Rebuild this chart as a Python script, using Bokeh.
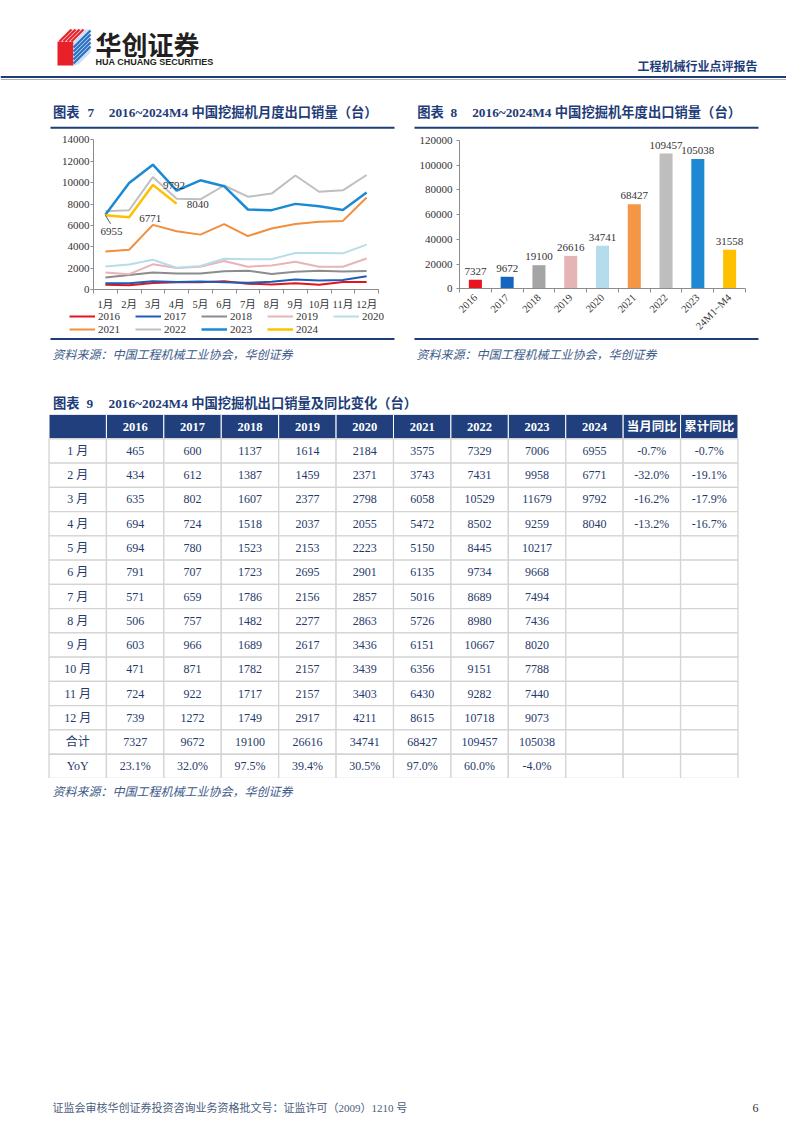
import math
from bokeh.plotting import figure
from bokeh.models import (Range1d, FactorRange, FixedTicker, SingleIntervalTicker, Legend, LegendItem,
                          ColumnDataSource, Spacer, BasicTickFormatter)
from bokeh.layouts import column, row
from bokeh.core.properties import value
from bokeh.embed import file_html
from bokeh.resources import INLINE

# ---------------- data ----------------
months = ["1月", "2月", "3月", "4月", "5月", "6月", "7月", "8月", "9月", "10月", "11月", "12月"]
years = ["2016", "2017", "2018", "2019", "2020", "2021", "2022", "2023", "2024"]
s2016 = [465, 434, 635, 694, 694, 791, 571, 506, 603, 471, 724, 739]
s2017 = [600, 612, 802, 724, 780, 707, 659, 757, 966, 871, 922, 1272]
s2018 = [1137, 1387, 1607, 1518, 1523, 1723, 1786, 1482, 1689, 1782, 1717, 1749]
s2019 = [1614, 1459, 2377, 2037, 2153, 2695, 2156, 2277, 2617, 2157, 2157, 2917]
s2020 = [2184, 2371, 2798, 2055, 2223, 2901, 2857, 2863, 3436, 3439, 3403, 4211]
s2021 = [3575, 3743, 6058, 5472, 5150, 6135, 5016, 5726, 6151, 6356, 6430, 8615]
s2022 = [7329, 7431, 10529, 8502, 8445, 9734, 8689, 8980, 10667, 9151, 9282, 10718]
s2023 = [7006, 9958, 11679, 9259, 10217, 9668, 7494, 7436, 8020, 7788, 7440, 9073]
s2024 = [6955, 6771, 9792, 8040]
mom_yoy = ["-0.7%", "-32.0%", "-16.2%", "-13.2%"]
cum_yoy = ["-0.7%", "-19.1%", "-17.9%", "-16.7%"]
totals = [7327, 9672, 19100, 26616, 34741, 68427, 109457, 105038]
yoy_annual = ["23.1%", "32.0%", "97.5%", "39.4%", "30.5%", "97.0%", "60.0%", "-4.0%"]
annual_cats = ["2016", "2017", "2018", "2019", "2020", "2021", "2022", "2023", "24M1~M4"]
annual_vals = [7327, 9672, 19100, 26616, 34741, 68427, 109457, 105038, 31558]
table_months = ["1 月", "2 月", "3 月", "4 月", "5 月", "6 月", "7 月", "8 月", "9 月", "10 月", "11 月", "12 月"]

series = [s2016, s2017, s2018, s2019, s2020, s2021, s2022, s2023, s2024]
line_colors = ["#E3141C", "#1B5EB8", "#8C8C8C", "#E8B4B8", "#B7DDE8", "#F28E3C", "#BFBFBF", "#1A8AD4", "#FFC000"]
line_widths = [2, 2, 2, 2, 2, 2, 2, 2.5, 2.5]
bar_colors = ["#E8141E", "#1565C0", "#A5A5A5", "#E6B4B4", "#B4DCEB", "#F59646", "#BEBEBE", "#1E88D2", "#FFC000"]

SERIF = "Liberation Serif, Noto Sans CJK SC"
CJK = "Noto Sans CJK SC"
NAVY = "#1e3c78"
TXT = "#333333"
SRC = "#3d5a8a"
W = 786


def canvas(y0, h, x0=0, w=W):
    p = figure(width=w, height=h, x_range=Range1d(x0, x0 + w), y_range=Range1d(y0 + h, y0),
               x_axis_type=None, y_axis_type=None, min_border=0, tools="",
               toolbar_location=None, output_backend="svg")
    p.outline_line_color = None
    p.grid.visible = False
    return p


def txt(p, x, y, s, size, color, font=SERIF, style="normal", align="left", baseline="middle"):
    p.text(x=[x], y=[y], text=[s], text_font=value(font), text_font_size=value(size),
           text_font_style=style, text_color=color, text_align=align, text_baseline=baseline)


def style_axes(p):
    for ax in p.axis:
        ax.axis_line_color = "#8c8c8c"
        ax.major_tick_line_color = "#8c8c8c"
        ax.minor_tick_line_color = "#8c8c8c"
        ax.major_label_text_font = SERIF
        ax.major_label_text_color = TXT
        ax.major_label_text_font_size = "11px"


def span_range(lo, hi, px_lo, px_hi, px_total):
    """data range whose [lo, hi] occupies pixels [px_lo, px_hi] of a frame px_total long"""
    per = (hi - lo) / (px_hi - px_lo)
    return Range1d(lo - px_lo * per, hi + (px_total - px_hi) * per)


# ---------------- header ----------------
header = canvas(0, 86)
header.patch([57, 57, 73, 73], [41, 65, 65, 41], fill_color="#e8202a", line_color=None)
header.patch([57, 69, 85, 73], [41, 29, 29, 41], fill_color="#f6c9cc", line_color=None)
header.multi_line([[59 + 4 * k, 71 + 4 * k] for k in range(4)], [[41, 29] for k in range(4)],
                  line_color="#e8202a", line_width=2)
header.patch([73, 85, 90, 90, 78, 73], [41, 29, 29, 52, 64, 65], fill_color="#cfe0f4", line_color=None)
header.multi_line([[73, 90] for d in range(5)], [[47 + 4 * d, 30 + 4 * d] for d in range(5)],
                  line_color="#2a6fc0", line_width=2.2)
txt(header, 95, 43, "华创证券", "26px", "#231f20", font=CJK, style="bold")
txt(header, 95, 61.5, "HUA CHUANG SECURITIES", "9px", "#231f20",
    font="Liberation Sans Narrow, Liberation Sans", style="bold")
txt(header, 757, 65, "工程机械行业点评报告", "12px", NAVY, font=CJK, style="bold", align="right")
header.segment(x0=[0], y0=[76.5], x1=[W], y1=[76.5], line_color=NAVY, line_width=2)
header.segment(x0=[0], y0=[79], x1=[W], y1=[79], line_color="#9a9a9a", line_width=0.8)

# ---------------- chart titles (both) ----------------
titles = canvas(86, 46)
for left, num_x, body_x, num, body, rx0, rx1 in [
        (52.5, 87, 108.3, "7", "2016~2024M4 中国挖掘机月度出口销量（台）", 50, 394),
        (416.7, 450, 471.7, "8", "2016~2024M4 中国挖掘机年度出口销量（台）", 414, 758)]:
    txt(titles, left, 112, "图表", "13.3px", NAVY, style="bold")
    txt(titles, num_x, 112, num, "13.3px", NAVY, style="bold")
    txt(titles, body_x, 112, body, "13.3px", NAVY, style="bold")
    titles.segment(x0=[rx0], y0=[127.3], x1=[rx1], y1=[127.3], line_color=NAVY, line_width=2)

# ---------------- sources (both) ----------------
sources = canvas(337, 29)
for tx, rx0, rx1 in [(52, 50, 394), (416, 414, 758)]:
    sources.segment(x0=[rx0], y0=[338.5], x1=[rx1], y1=[338.5], line_color=NAVY, line_width=2)
    txt(sources, tx, 352.5, "资料来源：中国工程机械工业协会，华创证券", "12px", SRC, font=CJK, style="italic")

# ---------------- chart 7: monthly lines ----------------
W7, H7 = 397, 205
xc = [i + 0.5 for i in range(len(months))]
p7 = figure(width=W7, height=H7,
            x_range=span_range(0, len(months), 93, 378, W7),
            y_range=span_range(0, 14000, 47.7, 197.7, H7),
            min_border=0, tools="", toolbar_location=None, output_backend="svg")
p7.grid.visible = False
p7.outline_line_color = None
style_axes(p7)
p7.xaxis.fixed_location = 0
p7.yaxis.fixed_location = 0
p7.xaxis.bounds = (0, len(months))
p7.yaxis.bounds = (0, 14000)
p7.xaxis.ticker = FixedTicker(ticks=xc, minor_ticks=list(range(len(months) + 1)))
p7.xaxis.major_label_overrides = {c: m for c, m in zip(xc, months)}
p7.xaxis.major_tick_out = 0
p7.xaxis.major_tick_in = 0
p7.xaxis.minor_tick_out = 4
p7.xaxis.minor_tick_in = 0
p7.xaxis.major_label_standoff = 5
p7.xaxis.major_label_text_font_size = "10.5px"
p7.yaxis.ticker = SingleIntervalTicker(interval=2000, num_minor_ticks=0)
p7.yaxis.formatter = BasicTickFormatter(use_scientific=False)
p7.yaxis.major_tick_out = 3
p7.yaxis.major_tick_in = 0
p7.yaxis.minor_tick_line_color = None
p7.yaxis.major_label_standoff = 1

items = []
for yr, vals, col, lw in zip(years, series, line_colors, line_widths):
    r = p7.line(xc[:len(vals)], vals, line_color=col, line_width=lw)
    items.append(LegendItem(label=yr, renderers=[r]))

# data labels for 2024
p7.segment(x0=[xc[0]], y0=[s2024[0]], x1=[xc[0] + 0.22], y1=[s2024[0] - 800], line_color="#333333", line_width=0.8)
p7.text(x=[xc[0]], y=[s2024[0]], text=[str(s2024[0])], x_offset=6, y_offset=16,
        text_font=value(SERIF), text_font_size=value("11px"), text_color=TXT,
        text_align="center", text_baseline="middle")
p7.text(x=xc[1:4], y=s2024[1:4], text=[str(v) for v in s2024[1:4]], x_offset=10, y_offset=1,
        text_font=value(SERIF), text_font_size=value("11px"), text_color=TXT,
        text_align="left", text_baseline="middle")


def make_legend(its, loc):
    return Legend(items=its, orientation="horizontal", location=loc,
                  glyph_width=26, glyph_height=12, label_height=12, label_width=37, label_standoff=3,
                  spacing=0, padding=0, margin=0, border_line_color=None, background_fill_alpha=0,
                  label_text_font=SERIF, label_text_font_size="11px", label_text_color=TXT)


p7.add_layout(make_legend(items[:5], (69, 15)))
p7.add_layout(make_legend(items[5:], (69, 2.5)))

# ---------------- chart 8: annual bars ----------------
W8, H8 = W - W7, 205
bc = [i + 0.5 for i in range(len(annual_cats))]
p8 = figure(width=W8, height=H8,
            x_range=span_range(0, len(annual_cats), 62, 348, W8),
            y_range=span_range(0, 120000, 48.7, 197, H8),
            min_border=0, tools="", toolbar_location=None, output_backend="svg")
p8.grid.visible = False
p8.outline_line_color = None
style_axes(p8)
p8.xaxis.fixed_location = 0
p8.yaxis.fixed_location = 0
p8.xaxis.bounds = (0, len(annual_cats))
p8.yaxis.bounds = (0, 120000)
p8.vbar(x=bc, top=annual_vals, width=0.41, fill_color=bar_colors, line_color=None)
p8.text(x=bc, y=annual_vals, text=[str(v) for v in annual_vals], y_offset=-5,
        text_font=value(SERIF), text_font_size=value("11px"), text_color=TXT,
        text_align="center", text_baseline="bottom")
p8.xaxis.ticker = FixedTicker(ticks=bc, minor_ticks=list(range(len(annual_cats) + 1)))
p8.xaxis.major_label_overrides = {c: m for c, m in zip(bc, annual_cats)}
p8.xaxis.major_label_orientation = math.pi / 4
p8.xaxis.major_tick_out = 0
p8.xaxis.major_tick_in = 0
p8.xaxis.minor_tick_out = 4
p8.xaxis.minor_tick_in = 0
p8.xaxis.major_label_standoff = 3
p8.xaxis.major_label_text_font_size = "10.5px"
p8.yaxis.ticker = SingleIntervalTicker(interval=20000, num_minor_ticks=0)
p8.yaxis.formatter = BasicTickFormatter(use_scientific=False)
p8.yaxis.major_tick_out = 3
p8.yaxis.major_tick_in = 0
p8.yaxis.minor_tick_line_color = None
p8.yaxis.major_label_standoff = 4

charts = row(p7, p8)

# ---------------- table 9 ----------------
t9 = canvas(366, 48)
txt(t9, 52.5, 403, "图表", "13.3px", NAVY, style="bold")
txt(t9, 86, 403, "9", "13.3px", NAVY, style="bold")
txt(t9, 108, 403, "2016~2024M4 中国挖掘机出口销量及同比变化（台）", "13.3px", NAVY, style="bold")

cols = ["月份"] + years + ["当月同比", "累计同比"]
rows = ["header"] + months + ["合计", "YoY"]
pt = figure(width=W, height=364,
            x_range=FactorRange(*cols, range_padding=0.845, range_padding_units="absolute"),
            y_range=FactorRange(*reversed(rows)),
            x_axis_location=None, y_axis_location=None, min_border=0,
            tools="", toolbar_location=None, output_backend="svg")
pt.grid.visible = False
pt.outline_line_color = None

head_text = [""] + years + ["当月同比", "累计同比"]
hsrc = ColumnDataSource(dict(x=cols, y=["header"] * len(cols), t=head_text))
pt.rect(x="x", y="y", width=1, height=1, fill_color="#203f7c", line_color="white", line_width=1, source=hsrc)
pt.text(x="x", y="y", text="t", source=hsrc, text_font=value(SERIF), text_font_size=value("12.5px"),
        text_font_style="bold", text_color="white", text_align="center", text_baseline="middle")

bx, by, bt = [], [], []
for i, m in enumerate(months):
    vals = [table_months[i]] + [str(s[i]) for s in series[:8]]
    vals.append(str(s2024[i]) if i < len(s2024) else "")
    vals.append(mom_yoy[i] if i < len(mom_yoy) else "")
    vals.append(cum_yoy[i] if i < len(cum_yoy) else "")
    for c, v in zip(cols, vals):
        bx.append(c); by.append(m); bt.append(v)
for c, v in zip(cols, ["合计"] + [str(t) for t in totals] + ["", "", ""]):
    bx.append(c); by.append("合计"); bt.append(v)
for c, v in zip(cols, ["YoY"] + yoy_annual + ["", "", ""]):
    bx.append(c); by.append("YoY"); bt.append(v)
bsrc = ColumnDataSource(dict(x=bx, y=by, t=bt))
pt.rect(x="x", y="y", width=1, height=1, fill_color="white", line_color="#d4d4d4", line_width=1.3, source=bsrc)
pt.text(x="x", y="y", text="t", source=bsrc, text_font=value(SERIF), text_font_size=value("12px"),
        text_color="#1f3a6b", text_align="center", text_baseline="middle")

s9 = canvas(778, 22)
txt(s9, 52, 790, "资料来源：中国工程机械工业协会，华创证券", "12px", SRC, font=CJK, style="italic")

# ---------------- footer ----------------
footer = canvas(1095, 22)
txt(footer, 52, 1107, "证监会审核华创证券投资咨询业务资格批文号：证监许可（2009）1210 号", "11px", "#4a5d7e")
txt(footer, 758, 1107, "6", "12px", "#333333", align="right")

page = column(header, titles, charts, sources, t9, pt, s9, Spacer(width=W, height=295), footer)

open("out.html", "w").write(file_html(page, INLINE))
